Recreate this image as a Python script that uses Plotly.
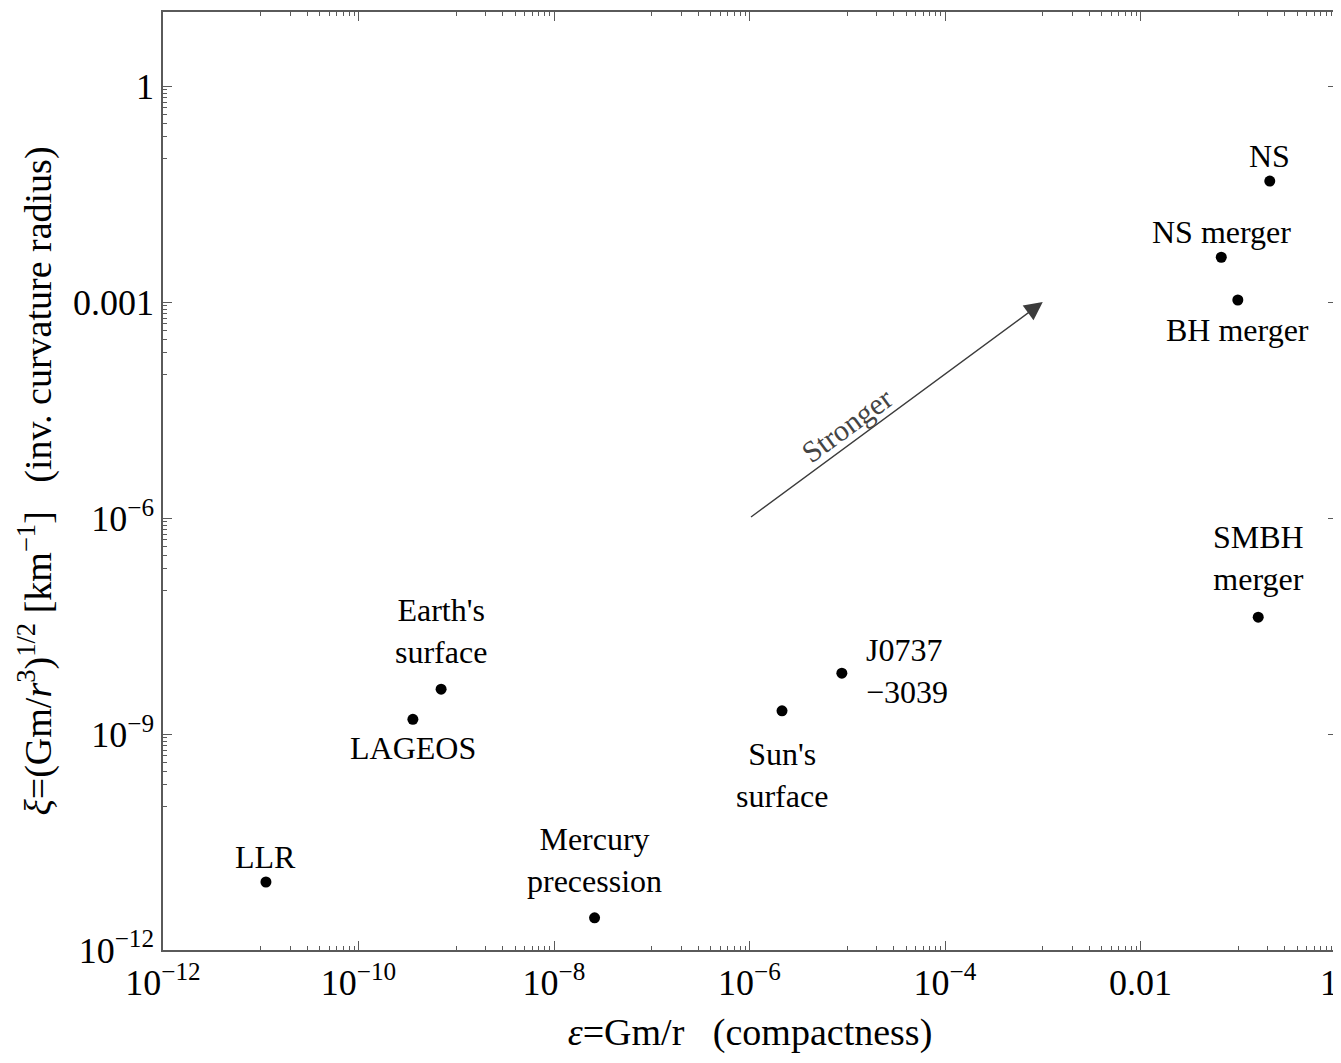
import numpy as np
import plotly.graph_objects as go

# ---- data ----
names = ["LLR", "LAGEOS", "Earth's surface", "Mercury precession", "Sun's surface",
         "J0737\u22123039", "NS", "NS merger", "BH merger", "SMBH merger"]
label_text = ["LLR", "LAGEOS", "Earth's<br>surface", "Mercury<br>precession", "Sun's<br>surface",
              "J0737<br>\u22123039", "NS", "NS merger", "BH merger", "SMBH<br>merger"]
compactness = [1.13e-11, 3.6e-10, 7.0e-10, 2.6e-8, 2.15e-6, 8.8e-6, 0.21, 0.067, 0.099, 0.16]
curvature = [8.8e-12, 1.6e-9, 4.2e-9, 2.8e-12, 2.1e-9, 7.0e-9, 0.048, 0.0042, 0.00107, 4.2e-8]

x_tickvals = [1e-12, 1e-10, 1e-8, 1e-6, 1e-4, 1e-2, 1]
x_ticktext = ["10<sup>\u221212</sup>", "10<sup>\u221210</sup>", "10<sup>\u22128</sup>",
              "10<sup>\u22126</sup>", "10<sup>\u22124</sup>", "0.01", "1"]
y_tickvals = [1e-12, 1e-9, 1e-6, 1e-3, 1]
y_ticktext = ["10<sup>\u221212</sup>", "10<sup>\u22129</sup>", "10<sup>\u22126</sup>", "0.001", "1"]

arrow_start = [1e-6, 1e-6]
arrow_end = [1e-3, 1e-3]

# label placement (pixel offsets, style only)
label_shift = [(0, 25), (0, -29), (0, 58), (0, 58), (0, -64),
               (22, 2), (0, 25), (0, 25), (0, -30), (0, 59)]
label_anchor = ["center"] * 5 + ["left"] + ["center"] * 4

FONT = "Liberation Serif"
GRAY = "#5a5a5a"

# minor ticks: 1..9 x 10^(k-1) below each labelled decade
def minor_vals(majors):
    out = []
    for m in majors:
        for k in range(1, 10):
            out.append(m / 10 * k)
    return out

fig = go.Figure()
fig.add_trace(go.Scatter(
    x=compactness, y=curvature, mode="markers",
    marker=dict(color="black", size=11),
    hoverinfo="text", text=names, showlegend=False))

for xv, yv, t, (dx, dy), anc in zip(compactness, curvature, label_text, label_shift, label_anchor):
    fig.add_annotation(x=np.log10(xv), y=np.log10(yv), xref="x", yref="y",
                       text=t, showarrow=False, xshift=dx, yshift=dy,
                       xanchor=anc, yanchor="middle", align=anc,
                       font=dict(family=FONT, size=32, color="black"))

# "Stronger" arrow
fig.add_annotation(x=np.log10(arrow_end[0]), y=np.log10(arrow_end[1]),
                   ax=np.log10(arrow_start[0]), ay=np.log10(arrow_start[1]),
                   xref="x", yref="y", axref="x", ayref="y",
                   text="", showarrow=True, arrowhead=2, arrowsize=2.6,
                   arrowwidth=1.4, arrowcolor="#3c3c3c", standoff=0)
mid_x = (np.log10(arrow_start[0]) + np.log10(arrow_end[0])) / 2
mid_y = (np.log10(arrow_start[1]) + np.log10(arrow_end[1])) / 2
fig.add_annotation(x=mid_x, y=mid_y, xref="x", yref="y", text="Stronger",
                   showarrow=False, textangle=-36.2, xshift=-50, yshift=-15,
                   font=dict(family=FONT, size=30, color="#444444"))

# last x tick label drawn right-anchored so it stays inside the page
x_labels_axis = x_ticktext[:-1] + [""]
fig.add_annotation(x=np.log10(x_tickvals[-1]), y=0, xref="x", yref="paper",
                   text=x_ticktext[-1], showarrow=False, xanchor="right",
                   yanchor="middle", xshift=4, yshift=-33,
                   font=dict(family=FONT, size=36, color="black"))

axis_common = dict(
    type="log", showgrid=False, zeroline=False, automargin=False,
    showline=True, linecolor=GRAY, linewidth=1.5, mirror="ticks",
    ticks="inside", ticklen=9, tickwidth=1.2, tickcolor=GRAY,
    tickfont=dict(family=FONT, size=36, color="black"),
    ticklabeloverflow="allow",
)

fig.update_xaxes(
    **axis_common, range=[-12, 0.01],
    tickmode="array", tickvals=x_tickvals, ticktext=x_labels_axis,
    minor=dict(tickmode="array", tickvals=minor_vals(x_tickvals), ticks="inside",
               ticklen=4, tickcolor=GRAY, tickwidth=1),
    title=dict(text="<i>\u03b5</i>=Gm/r\u00a0\u00a0\u00a0(compactness)",
               font=dict(family=FONT, size=38, color="black"), standoff=16),
)
fig.update_yaxes(
    **axis_common, range=[-12, 1.03],
    tickmode="array", tickvals=y_tickvals, ticktext=y_ticktext,
    minor=dict(tickmode="array", tickvals=minor_vals(y_tickvals), ticks="inside",
               ticklen=4, tickcolor=GRAY, tickwidth=1),
    title=dict(text="<i>\u03be</i>=(Gm/<i>r</i><sup>3</sup>)<sup>1/2</sup> [km<sup>\u22121</sup>]\u00a0\u00a0\u00a0(inv. curvature radius)",
               font=dict(family=FONT, size=38, color="black"), standoff=10),
)

fig.update_layout(
    width=1333, height=1055,
    margin=dict(l=155, r=4, t=4, b=113),
    plot_bgcolor="white", paper_bgcolor="white",
    font=dict(family=FONT),
)

fig.write_html("out.html")
